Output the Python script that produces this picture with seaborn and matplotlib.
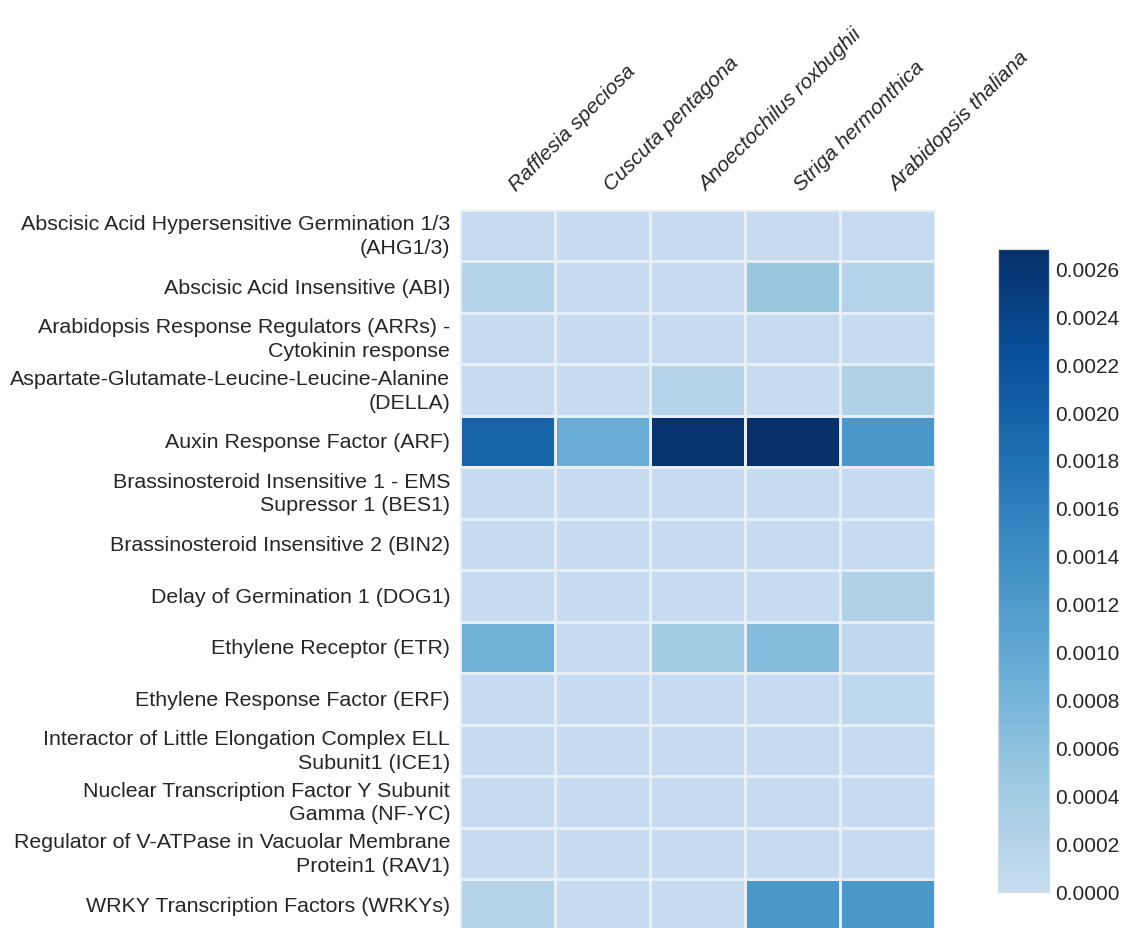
import numpy as np
import pandas as pd
import matplotlib
matplotlib.use("Agg")
import matplotlib.pyplot as plt
from matplotlib.colors import LinearSegmentedColormap
from matplotlib.ticker import FixedLocator, FormatStrFormatter
from matplotlib.transforms import ScaledTranslation
import seaborn as sns

species = ["Rafflesia speciosa", "Cuscuta pentagona", "Anoectochilus roxbughii",
           "Striga hermonthica", "Arabidopsis thaliana"]
genes = [
    "Abscisic Acid Hypersensitive Germination 1/3\n(AHG1/3)",
    "Abscisic Acid Insensitive (ABI)",
    "Arabidopsis Response Regulators (ARRs) -\nCytokinin response",
    "Aspartate-Glutamate-Leucine-Leucine-Alanine\n(DELLA)",
    "Auxin Response Factor (ARF)",
    "Brassinosteroid Insensitive 1 - EMS\nSupressor 1 (BES1)",
    "Brassinosteroid Insensitive 2 (BIN2)",
    "Delay of Germination 1 (DOG1)",
    "Ethylene Receptor (ETR)",
    "Ethylene Response Factor (ERF)",
    "Interactor of Little Elongation Complex ELL\nSubunit1 (ICE1)",
    "Nuclear Transcription Factor Y Subunit\nGamma (NF-YC)",
    "Regulator of V-ATPase in Vacuolar Membrane\nProtein1 (RAV1)",
    "WRKY Transcription Factors (WRKYs)",
]
rafflesia = [0.0, 0.00020, 0.0, 0.0, 0.00196, 0.0, 0.0, 0.0, 0.00085, 0.0, 0.0, 0.0, 0.0, 0.00020]
cuscuta = [0.0, 0.0, 0.0, 0.0, 0.00089, 0.0, 0.0, 0.0, 0.0, 0.0, 0.0, 0.0, 0.0, 0.0]
anoecto = [0.0, 0.0, 0.0, 0.00019, 0.00262, 0.0, 0.0, 0.0, 0.00040, 0.0, 0.0, 0.0, 0.0, 0.0]
striga = [0.0, 0.00050, 0.0, 0.0, 0.00267, 0.0, 0.0, 0.0, 0.00068, 0.0, 0.0, 0.0, 0.0, 0.00125]
arabid = [0.0, 0.00020, 0.0, 0.00025, 0.00125, 0.0, 0.0, 0.00025, 0.00008, 0.00010, 0.0, 0.0, 0.0, 0.00125]
cbar_ticks = [0.0000, 0.0002, 0.0004, 0.0006, 0.0008, 0.0010, 0.0012,
              0.0014, 0.0016, 0.0018, 0.0020, 0.0022, 0.0024, 0.0026]

df = pd.DataFrame({s: v for s, v in zip(species, [rafflesia, cuscuta, anoecto, striga, arabid])},
                  index=genes)

sns.set_theme(style="white")
plt.rcParams["font.family"] = ["Liberation Sans", "DejaVu Sans"]

base = plt.get_cmap("Blues")
cmap = LinearSegmentedColormap.from_list("tBlues", base(np.linspace(0.25, 1.0, 256)))

fig = plt.figure(figsize=(11.26, 9.29), dpi=100)
ax = fig.add_axes([0.4085, -0.003, 0.4215, 0.776])
cax = fig.add_axes([0.886, 0.039, 0.046, 0.692])

sns.heatmap(df, ax=ax, cbar_ax=cax, cmap=cmap, vmin=0, vmax=0.00268,
            linewidths=0.9, linecolor="#e8eef6")

ax.xaxis.tick_top()
ax.set_xticklabels(species, rotation=45, ha="left", rotation_mode="anchor",
                   fontstyle="italic", fontsize=15)
ax.set_yticklabels(genes, rotation=0, fontsize=15.4, linespacing=1.32)
ax.tick_params(axis="y", length=0, pad=7)
ax.tick_params(axis="x", length=0, pad=16)
ax.set_xlabel("")
ax.set_ylabel("")
offset = ScaledTranslation(0.12, -0.06, fig.dpi_scale_trans)
for lab in ax.get_xticklabels():
    lab.set_transform(lab.get_transform() + offset)

cax.yaxis.set_major_locator(FixedLocator(cbar_ticks))
cax.yaxis.set_major_formatter(FormatStrFormatter("%.4f"))
cax.tick_params(labelsize=15, length=0, pad=4)
for sp in cax.spines.values():
    sp.set_visible(True)
    sp.set_color("#d0dcea")
    sp.set_linewidth(0.8)

fig.savefig("out.png", dpi=100)
